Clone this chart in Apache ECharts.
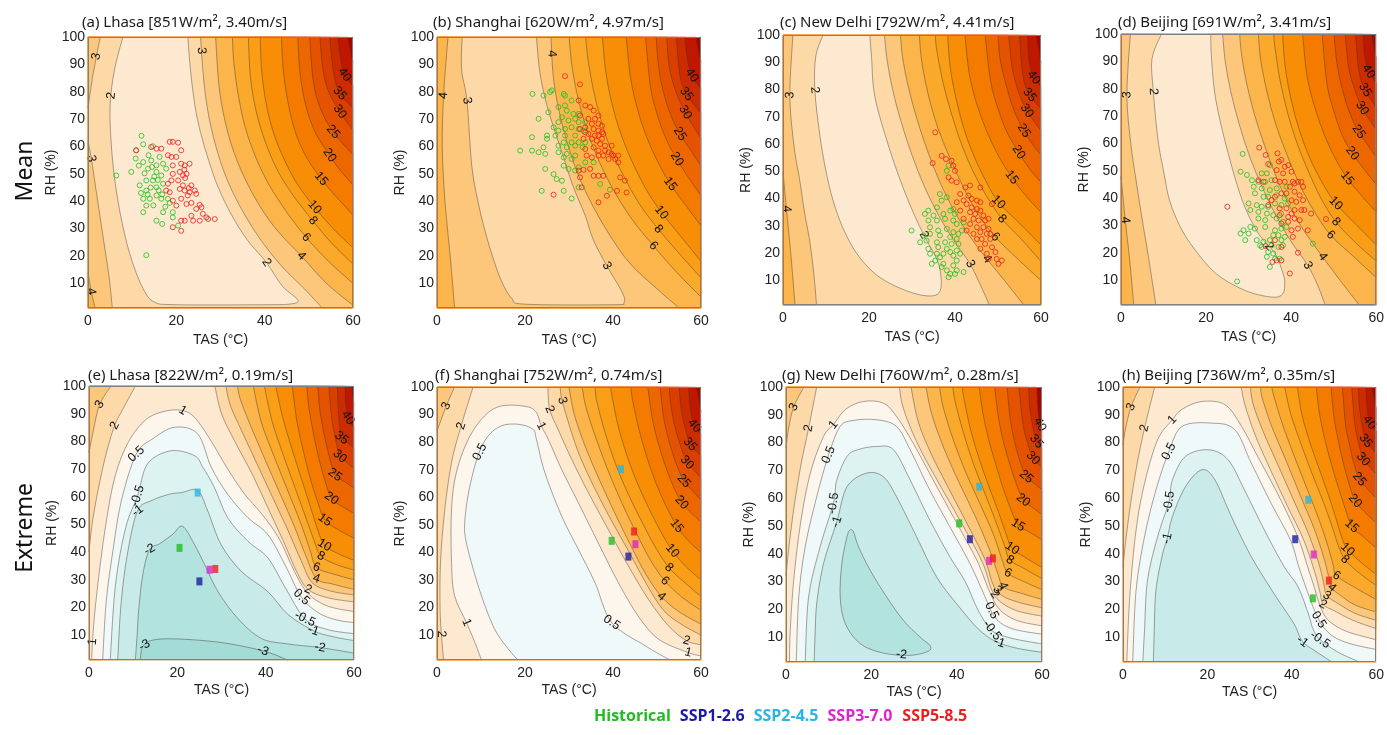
<!DOCTYPE html>
<html><head><meta charset="utf-8">
<script src="https://cdn.jsdelivr.net/npm/echarts@6/dist/echarts.min.js"></script>
<style>html,body{margin:0;padding:0;background:#fff}#c{width:1387px;height:735px}</style>
</head><body><div id="c"></div>
<script>
// ---------- contour levels and band colours ----------
const bandLevels = [-3,-2,-1,-0.5,0.5,1,2,3,4,6,8,10,15,20,25,30,35,40,45];
const bandColors = ['#a3dcd7','#b3e3df','#c8ebe9','#dcf3f2','#eff9f9','#fdf6ed','#fde9cf','#fcd9a7','#fcc67b','#fbb54b','#fba92b','#fa9e15','#f88e05','#f47b00','#ed6700','#e55300','#da3f00','#cd2b00','#bf1700'];
const topBandColor = '#a80303';

const scenarioNames = ['Historical','SSP1-2.6','SSP2-4.5','SSP3-7.0','SSP5-8.5'];
const scenarioColors = ['#22bb22','#1a1aa6','#2ab4e2','#dd24cc','#ee1e1e'];

const panelTitles = [
 '(a) Lhasa [851W/m\u00b2, 3.40m/s]','(b) Shanghai [620W/m\u00b2, 4.97m/s]','(c) New Delhi [792W/m\u00b2, 4.41m/s]','(d) Beijing [691W/m\u00b2, 3.41m/s]',
 '(e) Lhasa [822W/m\u00b2, 0.19m/s]','(f) Shanghai [752W/m\u00b2, 0.74m/s]','(g) New Delhi [760W/m\u00b2, 0.28m/s]','(h) Beijing [736W/m\u00b2, 0.35m/s]'];
const xTicks = [0,20,40,60];
const yTicks = [10,20,30,40,50,60,70,80,90,100];

// ---------- contour lines: [level, [[TAS,RH],...]] ----------
const contoursA = [
 [2,[[7.9,100],[6,88],[5,75],[5.3,60],[6.3,45],[8,30],[10,18],[12.5,8],[15,3.2],[20,2.2],[40,2.2],[46,2.5],[47.5,4],[44,9],[40.4,17.6],[36,26],[32.5,35],[29.5,45],[27.3,55],[25.5,65],[24.2,75],[23.2,88],[22.6,100]]],
 [3,[[2.8,100],[1.9,92.9],[0.9,84],[0,74]]],
 [3,[[0,62],[0.75,55.6],[2.2,40],[3.6,25],[4.8,12],[5.5,1]]],
 [3,[[53,1],[49,8],[44,16],[39.5,25],[35.5,35],[32,46],[29.5,57],[27.6,69],[26.5,80],[25.8,92],[25.5,100]]],
 [4,[[0,14],[0.75,7],[1.6,1]]],
 [4,[[60,2],[54,10],[48.3,20],[43,29],[39,38],[35.3,49],[32.6,60],[30.8,71],[29.6,83],[28.9,100]]],
 [6,[[60,10],[54.5,18],[49.4,26.8],[45,36],[41,46],[38,56],[35.6,67],[34,79],[33,91],[32.7,100]]],
 [8,[[60,17],[55,25],[50.9,32.9],[46.5,42],[43,51],[40.3,61],[38.2,72],[36.8,85],[36.3,100]]],
 [10,[[60,23],[55.5,30],[51.3,37.8],[47.5,46],[44.5,55],[42,65],[40.3,76],[39.3,88],[39,100]]],
 [15,[[60,35],[56,42],[52.8,48.2],[49.5,56],[47,65],[45.3,76],[44.2,88],[43.8,100]]],
 [20,[[60,46],[57,51.5],[54.7,56.8],[51.5,65],[49.3,75],[48,87],[47.5,100]]],
 [25,[[60,57],[55.5,65.3],[52.6,74],[51,84],[50.2,100]]],
 [30,[[60,66],[57,72.7],[54.5,80],[53.2,88],[52.5,100]]],
 [35,[[60,74],[57,79.4],[55.6,87],[54.7,100]]],
 [40,[[60,82],[58.1,86.2],[57.2,92],[56.6,100]]],
 [45,[[60,91],[58.7,100]]]
];
const labelsA = [['3',1.9,92.9],['2',4.2,78.8],['3',0.75,55.6],['4',0.75,7],['3',26,95],['2',40.4,17.6],['4',48.3,20],['6',49.4,26.8],['8',50.9,32.9],['10',51.3,37.8],['15',52.8,48.2],['20',54.7,56.8],['25',55.5,65.3],['30',57,72.7],['35',57,79.4],['40',58.1,86.2]];

const contoursB = [
 [3,[[5.7,100],[5.6,88],[6.8,76.8],[7.9,53],[9.3,40],[11,28.6],[13,18],[14.8,10.3],[17,4.5],[20,2.4],[40,2.2],[42.5,3],[42,7],[38.6,16.4],[35.5,26],[33.7,34.7],[30.8,46],[28.4,57.9],[26.3,68],[24.6,77.4],[23.3,88],[22.6,100]]],
 [4,[[2.5,100],[1.5,78.6],[1.2,60],[1.8,40],[3,20],[4,1]]],
 [4,[[55,1],[50,8],[44,17],[39.5,27],[35.5,38],[32,50],[29.5,62],[27.6,74],[26.4,86],[25.9,100]]],
 [6,[[60,5],[54.5,14],[49.2,23.7],[44.5,33],[40.5,43],[37,54],[34.3,65],[32.3,76],[30.8,88],[30,100]]],
 [8,[[60,12],[55,21],[50.3,29.8],[46,39],[42.5,49],[39.5,59],[37.2,70],[35.5,81],[34.3,92],[33.8,100]]],
 [10,[[60,18],[55.5,27],[51,35.9],[47.3,45],[44.2,55],[41.7,65],[39.7,76],[38.3,88],[37.6,100]]],
 [15,[[60,31],[56.3,39],[53,46.3],[50,55],[47.5,64],[45.5,74],[44,85],[43,100]]],
 [20,[[60,42],[57,49],[54.5,55.4],[52,63],[50,72],[48.5,82],[47.4,100]]],
 [25,[[60,53],[57.5,59],[55.2,64.6],[53,72],[51.3,81],[50.3,90],[49.8,100]]],
 [30,[[60,63],[58,68],[56.4,72.5],[54.3,80],[52.8,89],[52.2,100]]],
 [35,[[60,72],[56.7,79.2],[55.2,86],[54.4,100]]],
 [40,[[60,81],[57.9,86],[56.8,93],[56.4,100]]],
 [45,[[60,91],[58.8,100]]]
];
const labelsB = [['4',1.5,78.6],['3',6.8,76.8],['4',26.1,93.9],['3',38.6,16.4],['6',49.2,23.7],['8',50.3,29.8],['10',51,35.9],['15',53,46.3],['20',54.5,55.4],['25',55.2,64.6],['30',56.4,72.5],['35',56.7,79.2],['40',57.9,86]];

const contoursC = [
 [2,[[9.3,100],[7.6,92],[7.4,80],[8.5,64],[10,50],[11.7,39],[14,29],[17.1,20],[21,13],[25,8.8],[30,5.5],[34,4.3],[36.3,5.5],[36.8,10],[35.9,17.3],[32.6,27.1],[28.8,40.5],[24.9,57.6],[21.4,77.1],[20.6,91.7],[20.2,100]]],
 [3,[[2.3,100],[1.6,78],[2.5,60],[3.9,46.6],[5,35],[6.2,24.6],[7.2,12],[7.8,1]]],
 [3,[[48,1],[46,8],[43.5,16.1],[40,24],[36.5,33],[33,44],[30,56],[27.5,68],[25.5,80],[24.2,91],[23.6,100]]],
 [4,[[0,50],[0.8,36.2],[1.8,20],[2.8,1]]],
 [4,[[56,1],[51.5,10],[47.4,17.9],[43.5,26],[40,35],[36.5,46],[33.5,58],[31,70],[29,82],[27.8,92],[27.3,100]]],
 [6,[[60,10],[54.5,18],[49.4,25.9],[45.5,34],[42,44],[38.8,55],[36,66],[33.8,78],[32.3,90],[31.7,100]]],
 [8,[[60,17],[55.5,25],[50.9,32.6],[47.3,41],[44.2,50],[41.5,60],[39.2,71],[37.3,82],[35.8,94],[35.4,100]]],
 [10,[[60,23],[55,31],[50.1,38.7],[47,47],[44.3,56],[42,66],[40.2,77],[38.9,88],[38.3,100]]],
 [15,[[60,35],[56.5,41],[53.2,47.8],[50,56],[47.3,65],[45,75],[43.3,86],[42.3,100]]],
 [20,[[60,46],[57.3,51],[54.8,57],[52.2,64],[50,73],[48.3,83],[47,100]]],
 [25,[[60,56],[58,60],[56,64.9],[53.8,72],[52,81],[50.5,91],[50,100]]],
 [30,[[60,65],[58.3,68.5],[56.7,72.2],[54.8,79],[53.3,88],[52.5,100]]],
 [35,[[60,73],[57.1,78.5],[55.7,86],[55,100]]],
 [40,[[60,81],[58.3,84.4],[57.2,91],[56.9,100]]],
 [45,[[60,90],[58.9,100]]]
];
const labelsC = [['3',1.6,78],['2',7.4,79.8],['4',0.8,36.2],['2',31.9,25.9],['3',43.5,16.1],['4',47.4,17.9],['6',49.4,25.9],['8',50.9,32.6],['10',50.1,38.7],['15',53.2,47.8],['20',54.8,57],['25',56,64.9],['30',56.7,72.2],['35',57.1,77.7],['40',58.3,84.4]];

const contoursD = [
 [2,[[9.5,100],[7.3,91],[7.6,79],[8.7,61.3],[10,50],[11.4,39.3],[13.8,30],[16.9,22.2],[22.3,12.5],[29.2,6.3],[35.4,3.9],[38,5],[38.5,9],[38.1,12.5],[36.2,19.8],[32.3,27.1],[28.5,39.3],[25,57.6],[22.3,75.9],[21.3,90.6],[21.1,100]]],
 [3,[[2.2,100],[1.4,77.8],[2.3,60],[3.7,45],[5,32],[6.3,20],[7.5,8],[8.2,1]]],
 [3,[[48,1],[46.3,8],[43.9,15.5],[40.5,23],[37,32],[33.5,43],[30.3,55],[27.8,67],[25.8,79],[24.5,90],[23.9,100]]],
 [4,[[0,48],[1,32],[2,18],[3,1]]],
 [4,[[56,1],[51.5,10],[47.4,18.6],[43.5,27],[40,36],[36.7,47],[33.8,59],[31.3,71],[29.4,83],[28.3,93],[27.9,100]]],
 [6,[[60,11],[54.5,19],[49.3,26.5],[45.5,35],[42,45],[39,56],[36.4,67],[34.3,79],[32.8,91],[32.3,100]]],
 [8,[[60,17],[55,24],[50.5,31.4],[47,40],[44,50],[41.4,60],[39.2,71],[37.4,83],[36.2,95],[35.9,100]]],
 [10,[[60,23],[55.2,30.5],[50.5,38.1],[47.2,46],[44.3,55],[41.9,65],[40,76],[38.6,88],[38,100]]],
 [15,[[60,35],[56.5,41],[53.2,47.3],[50.2,55],[47.6,64],[45.4,74],[43.7,85],[42.7,100]]],
 [20,[[60,45],[57.2,50.5],[54.4,56.4],[52,63],[50,72],[48.4,82],[47.3,100]]],
 [25,[[60,55],[58,59.5],[55.9,64.3],[53.8,71],[52,80],[50.7,90],[50.1,100]]],
 [30,[[60,65],[58.4,68.8],[56.7,72.9],[54.9,80],[53.5,88],[52.7,100]]],
 [35,[[60,73],[57.4,79.6],[56,86],[55.1,100]]],
 [40,[[60,82],[58.2,86.3],[57.3,92],[56.9,100]]],
 [45,[[60,91],[58.9,100]]]
];
const labelsD = [['3',1.4,77.8],['2',7.6,79],['4',1,32],['2',34.5,22],['3',43.9,15.5],['4',47.4,18.6],['6',49.3,26.5],['8',50.5,31.4],['10',50.5,38.1],['15',53.2,47.3],['20',54.4,56.4],['25',55.9,64.3],['30',56.7,72.9],['35',57.4,79.6],['40',58.2,86.3]];

const contoursE = [
 [3,[[5,100],[2.4,93.3],[1,84],[0,76]]],
 [3,[[60,24.5],[54.5,26],[50.5,29],[48,37],[45,48],[41.5,60],[38,72],[34.5,84],[32,93],[31,100]]],
 [2,[[10.5,100],[7.8,92],[5.8,85.7],[3.8,75],[2,62],[0.7,50],[0,40]]],
 [2,[[60,22],[54,23.5],[49.6,26.5],[47,33],[44,44],[40.5,56],[37,68],[33,80],[30,90],[28.5,100]]],
 [1,[[60,18.5],[54,20.5],[49.6,25],[46.5,33],[43,45],[39,54],[35.2,61],[31.4,70],[27.7,80],[24,88.5],[21.2,91.1],[17.5,91],[13,88],[9,80],[6,68],[4,52],[2.5,35],[1.3,18],[0.8,7.6],[0.6,1]]],
 [0.5,[[60,14.5],[56,15.5],[52,18],[48.1,23.7],[44.5,35],[40.5,46.3],[36,52.4],[31.4,60.9],[27.7,70.6],[24.6,82.7],[19.4,85.1],[14.5,81],[10.7,75.4],[7.3,58.4],[5.4,40.3],[3.9,22.1],[3.1,1]]],
 [-0.5,[[60,10.5],[54,12],[48.9,15.8],[44.5,27],[40.5,37.9],[36,43.9],[31.4,52.4],[28.4,63.3],[25.8,70.6],[23.9,74.8],[18.6,76.6],[13.3,72],[11,60.3],[8.3,48.8],[6,28.2],[4.8,1]]],
 [-1,[[60,8],[55,9.5],[50.8,11.6],[45,17.5],[40.5,25.7],[34.5,33],[29.9,42.7],[26.9,54.8],[24.6,62.3],[21,61.5],[18.2,60.9],[14,58.5],[11,54.9],[8.8,40.3],[7.3,22.1],[6.5,1]]],
 [-2,[[60,3.5],[52.3,5.5],[45,6.8],[39,8.8],[33.7,16],[29.2,25.7],[26.2,35.4],[23.9,42.7],[21.2,49.3],[19,46.5],[16,43],[13.7,40.9],[12.2,32],[11.3,20],[10.9,10],[10.5,1]]],
 [-3,[[45,1],[39.4,4.3],[30,7.3],[20,8.6],[14.5,8.2],[12.2,6],[11.6,1]]],
 [4,[[60,26.5],[55,28.5],[51.5,30.4],[49,39],[46.3,50],[43,62],[39.7,74],[36.5,86],[34.3,95],[33.6,100]]],
 [6,[[60,30],[55.5,32],[51.5,34.5],[50,41],[47.8,51],[44.8,63],[41.8,75],[39,87],[37.2,100]]],
 [8,[[60,33.5],[56,35.5],[52.5,38.5],[51,44],[49.2,52],[46.7,63],[44,75],[41.5,87],[39.7,100]]],
 [10,[[60,37],[56.3,39.5],[53.3,42.5],[51.8,48],[50.2,56],[48.2,66],[46,77],[43.8,89],[42.3,100]]],
 [15,[[60,45],[56.5,48],[53.4,51.6],[51.8,58],[50.2,66],[48.6,76],[47.1,87],[46,100]]],
 [20,[[60,54],[57.3,56.5],[54.9,59.4],[53.4,66],[52,74],[50.8,83],[49.8,92],[49.3,100]]],
 [25,[[60,63],[57.8,65.5],[55.7,67.9],[54.5,74],[53.3,82],[52.3,91],[51.8,100]]],
 [30,[[60,70],[58.3,72.5],[56.8,74.6],[55.8,81],[54.9,89],[54.3,100]]],
 [35,[[60,77.5],[58.6,79.5],[57.2,81.2],[56.6,88],[56.2,100]]],
 [40,[[60,85],[58.6,88.5],[58.1,94],[58,100]]],
 [45,[[60,93],[59.5,100]]]
];
const labelsE = [['3',2.4,93.3],['2',5.8,85.7],['0.5',10.7,75.4],['-0.5',11,60.3],['-1',11,54.9],['-2',13.7,40.9],['1',21.2,91.1],['1',0.8,7.6],['-3',12.2,7.3],['-3',39.4,4.3],['-2',52.3,5.5],['-1',50.8,11.6],['-0.5',48.9,15.8],['0.5',48.1,23.7],['2',49.6,26.5],['4',51.5,30.4],['6',51.5,34.5],['8',52.5,38.5],['10',53.3,42.5],['15',53.4,51.6],['20',54.9,59.4],['25',55.7,67.9],['30',56.8,74.6],['35',57.2,81.2],['40',58.6,88.5]];

const contoursF = [
 [0.5,[[53,1],[51.8,2],[47.3,6.2],[39.7,14.6],[35.9,29.1],[32.1,41.2],[28.3,53.3],[24.5,69],[22.6,81],[21.8,84.7],[18.4,86.5],[14.6,85.9],[11.6,82.2],[9.3,75],[7.2,62],[6.3,50.8],[6.5,45],[7.8,36.4],[10.1,24.3],[13.1,12.2],[16.2,5],[18.4,1]]],
 [1,[[60,2.5],[57.1,3.7],[50.3,8.6],[45.7,17],[41.2,29.1],[36.6,43.6],[32.1,58.1],[28.3,70.2],[25.3,81],[23.7,85.9],[22.5,91],[20,93],[14.6,93.1],[10.8,89.5],[7.1,81],[4.4,69],[3.3,55.7],[3.3,36.4],[4,24.3],[6.7,14.6],[8.6,7.4],[10.1,1]]],
 [2,[[8.2,100],[5.5,85.9],[3.3,72.6],[1.7,54.5],[0.8,36.4],[0.7,20],[1,10.4],[1.5,1]]],
 [2,[[60,6.5],[56.7,8],[52.6,13.4],[48,23.1],[43.5,35.1],[38.9,48.4],[34.4,61.7],[30.6,73.8],[27.5,84.7],[25.6,91.9],[25.2,100]]],
 [3,[[4,100],[2.1,93.1],[0,84]]],
 [3,[[60,10],[55.5,14],[51.5,19],[47.8,28],[43.7,40],[39.5,52],[35.6,64],[32.2,76],[29.7,88],[28.3,96],[28,100]]],
 [4,[[60,14],[55,18.5],[51,24],[47.5,32],[44.2,42],[40.5,54],[37,66],[33.8,78],[31.2,90],[30,100]]],
 [6,[[60,19],[55.5,24],[51.8,29.7],[48.6,37],[45.3,47],[42,58],[38.8,70],[36,82],[33.8,93],[33,100]]],
 [8,[[60,24],[56,29.5],[52.7,34.5],[49.6,42],[46.6,51],[43.5,61],[40.6,72],[38.1,84],[36.3,95],[35.9,100]]],
 [10,[[60,30],[56.5,35],[53.5,40.6],[50.7,48],[48,56.5],[45.3,66],[43,76],[41,87],[39.4,100]]],
 [15,[[60,40],[57,44.5],[54.5,49.6],[52,57],[49.8,65],[47.8,74],[46,84],[44.6,94],[44,100]]],
 [20,[[60,51],[57.7,54.5],[55.6,58.1],[53.7,64],[52,71],[50.4,79],[49,88],[47.9,100]]],
 [25,[[60,59],[58,62.5],[56.1,65.9],[54.4,72],[52.8,80],[51.5,89],[50.7,100]]],
 [30,[[60,67],[58.3,70],[56.8,72.6],[55.3,79],[54,86],[53.1,94],[52.8,100]]],
 [35,[[60,75],[58.7,77],[57.5,79.2],[56.4,85],[55.5,92],[55,100]]],
 [40,[[60,83],[58.5,85.9],[57.6,92],[57.2,100]]],
 [45,[[60,91],[59,100]]]
];
const labelsF = [['3',2.1,93.1],['2',5.5,85.9],['0.5',10.8,75.6],['1',6.7,14.6],['2',1,10.4],['3',28.2,95],['2',25.6,91.9],['1',23.7,85.9],['0.5',39.7,14.6],['2',56.7,8],['1',57.1,3.7],['4',51,24],['6',51.8,29.7],['8',52.7,34.5],['10',53.5,40.6],['15',54.5,49.6],['20',55.6,58.1],['25',56.1,65.9],['30',56.8,72.6],['35',57.5,79.2],['40',58.5,85.9]];

const contoursG = [
 [3,[[4.2,100],[1.8,92.8],[0.6,85],[0,78]]],
 [3,[[60,20.5],[54.5,22.5],[50.5,25],[48.5,29],[46.6,38],[42.7,50],[38.3,63],[34,76],[31,87.5],[29.3,100]]],
 [2,[[7.2,100],[5.3,85.2],[3.5,72],[2,58],[0.8,44],[0,32]]],
 [2,[[60,17.5],[54,19.5],[50,23],[48.2,27],[46,37],[41.5,50],[36.7,63],[32,76],[29,86],[27.2,94],[26.6,100]]],
 [1,[[60,14],[54,16],[50,20],[47.8,26],[45.5,35],[43.9,40.1],[39.2,53.3],[34.5,66.5],[29.8,79.8],[25.9,89.4],[22.8,94.2],[18.2,94.8],[14,92],[11.1,86.4],[8.8,82.2],[5.7,69],[3.4,50.9],[1.8,30.4],[1,12.4],[0.8,1]]],
 [0.5,[[60,11],[53,13],[49,17],[46.5,25],[43.1,36.5],[38.4,49.7],[33.7,62.9],[29.1,77.4],[25.9,85.8],[21.3,88.2],[16,88],[12.7,85.8],[10,75.6],[7.2,60.5],[4.5,42.5],[3,24.4],[2.4,1]]],
 [-0.5,[[60,7.5],[53,9.5],[48.5,12],[46,17],[44.3,22],[42,30],[38.4,38.9],[33.7,52.1],[29.1,66.5],[25.2,77.4],[21.3,78.6],[17,77.5],[14.3,75],[11.9,66.5],[11.1,58.1],[8,42.5],[5.3,24.4],[4.5,1]]],
 [-1,[[60,4.5],[54,6],[49,8.5],[45,13],[40.5,21],[35.3,31.6],[30.6,46.1],[25.9,60.5],[22.8,67.7],[18.9,69],[14.3,64.1],[11.9,51.5],[8.8,36.5],[7.2,22],[6.8,10],[6.6,1]]],
 [-2,[[15,48.5],[14.3,46.1],[13.1,36.5],[12.7,24.4],[13.9,14.8],[17.4,7.6],[22.8,4.2],[29.1,3.4],[33.4,4.9],[33.7,7],[31.4,10],[27.5,16],[23.6,24.4],[19.7,34.1],[17,42.5],[15.8,47.9],[15,48.5]]],
 [4,[[60,23.5],[55,25.8],[51,28],[49.6,33],[47.8,41],[44.5,53],[40.6,65.5],[37,78],[34.2,90],[32.8,100]]],
 [6,[[60,27],[55.7,30],[52,33],[50.6,38],[48.6,47],[45.6,57.5],[42.2,69],[39.2,81],[36.8,93],[36,100]]],
 [8,[[60,31],[56,34.5],[52.5,37.7],[51.2,43],[49.3,51],[46.8,61],[44,72],[41.5,84],[39.6,95],[39.1,100]]],
 [10,[[60,35],[56.2,38.5],[53,41.9],[51.6,47],[49.8,55],[47.6,64],[45.3,74],[43.2,85],[41.7,96],[41.3,100]]],
 [15,[[60,45],[57,47.8],[54.4,50.3],[52.7,56],[51,63],[49.2,72],[47.5,81],[46.1,91],[45.3,100]]],
 [20,[[60,54],[57.8,56.6],[55.6,59.3],[54,65],[52.5,72],[51,80],[49.8,89],[48.9,100]]],
 [25,[[60,63],[58,65.5],[56.3,67.7],[54.9,73],[53.6,80],[52.6,88],[51.8,100]]],
 [30,[[60,71],[57.9,74.4],[56.6,80],[55.5,87],[54.6,100]]],
 [35,[[60,78],[58.7,80.4],[57.8,86],[57.1,93],[56.9,100]]],
 [40,[[60,85],[59.5,86.5],[59,93],[58.8,100]]]
];
const labelsG = [['3',1.8,92.8],['2',5.3,85.2],['1',11.1,86.4],['0.5',10,75.6],['-0.5',11.1,58.1],['-1',11.9,51.5],['-2',27.1,4],['0.5',47.5,19],['-0.5',47.8,11.8],['-1',50,8],['2',48.6,25],['3',49.6,27],['4',51,28.5],['6',52,33],['8',52.5,37.7],['10',53,41.9],['15',54.4,50.3],['20',55.6,59.3],['25',56.3,67.7],['30',57.9,74.4],['35',58.7,80.4],['40',59.5,86.5]];

const contoursH = [
 [3,[[4,100],[1.9,92.8],[0.6,85],[0,79]]],
 [3,[[60,16],[55,18.5],[51,22],[48.3,24.9],[47.6,29],[46.5,36],[44,47],[40.5,59],[36.7,72],[33.2,84],[30.8,94],[30.2,100]]],
 [2,[[7.5,100],[5.1,85.2],[3.3,72],[1.8,58],[0.6,44],[0,35]]],
 [2,[[60,13],[54.5,16],[50,19.5],[47.4,21.7],[46.7,26],[45.5,33],[42.8,45],[39,57],[35,70],[31.5,82],[29,93],[28,100]]],
 [1,[[60,9],[53,12],[49,15.5],[47.3,19],[46.3,23],[45.3,28],[43.8,35],[41.3,46.5],[36.6,61.7],[31.9,75],[28.1,85.8],[24.2,93.6],[18.7,94.8],[14,92],[11.7,88.2],[8.2,81],[5.1,65.3],[3.1,48.5],[1.6,24.4],[0.9,1]]],
 [0.5,[[60,5.5],[54,7.5],[50,10],[47.5,13.5],[46.4,16.2],[45,21],[43.3,28],[41.5,36],[39.7,44.9],[35.1,58.1],[30.4,72.6],[26.5,84.6],[21,87],[14,85.8],[10.9,76.8],[7.8,62.9],[5.1,46.1],[3.1,26.8],[2.3,1]]],
 [-0.5,[[56,1],[51,4.5],[46.7,9],[45,13],[44,18],[41.5,28],[38.2,35.3],[33.5,48.5],[28.8,62.9],[24.9,73.8],[20.3,77.4],[14.8,75],[11.7,66.5],[10.9,58.7],[8.2,46.1],[5.8,30.4],[5.1,12.4],[4.7,1]]],
 [-1,[[49.5,1],[45.5,5],[42.5,8.4],[40.5,14.8],[35.8,25.6],[30.4,38.9],[25.7,53.3],[21.8,66.5],[18.7,70.2],[14.8,64.1],[11.7,53.3],[10.5,45.5],[9.4,40],[7.8,26.8],[7.4,12.4],[7.2,1]]],
 [4,[[60,19],[55,21.5],[51.5,25],[49.5,27.7],[48.7,32],[47.5,39],[45.3,49],[42,61],[38.5,74],[35.2,86],[33,96],[32.6,100]]],
 [6,[[60,23.5],[55.3,27.5],[50.6,32.1],[49.8,36],[48.5,43],[46.5,52],[43.7,63],[40.6,75],[37.7,87],[35.7,97],[35.3,100]]],
 [8,[[60,28.5],[56,33],[52.6,37.9],[51,43],[49.5,50],[47.5,58.5],[45,68],[42.3,79],[39.8,90],[38.3,100]]],
 [10,[[60,32.5],[56.3,37],[53.2,41.5],[51.8,46],[50.4,53],[48.7,61],[46.6,70],[44.3,80],[42.4,90],[41.3,100]]],
 [15,[[60,42],[57,46],[54.2,49.9],[52.7,56],[51.2,63],[49.6,71],[48,80],[46.6,90],[45.8,100]]],
 [20,[[60,51],[57.3,55],[55,59],[53.6,65],[52.3,72],[51.1,80],[50,89],[49.3,100]]],
 [25,[[60,60],[57.8,63.5],[56,66.8],[54.8,72],[53.7,79],[52.7,87],[52,100]]],
 [30,[[60,68.5],[58.3,71.5],[56.9,74],[55.8,80],[54.9,87],[54.2,100]]],
 [35,[[60,76],[58.6,78.5],[57.5,80.6],[56.7,86],[56,93],[55.8,100]]],
 [40,[[60,84],[58.4,87.2],[57.8,93],[57.6,100]]],
 [45,[[60,92],[59,100]]]
];
const labelsH = [['3',1.9,92.8],['2',5.1,85.2],['1',11.7,88.2],['0.5',10.9,76.8],['-0.5',10.9,58.7],['-1',10.5,45.5],['-1',42.5,8.4],['-0.5',46.7,9],['0.5',46.4,16.2],['2',47.4,21.7],['3',48.3,24.9],['4',49.5,27.7],['6',50.6,32.1],['8',52.6,37.9],['10',53.2,41.5],['15',54.2,49.9],['20',55,59],['25',56,66.8],['30',56.9,74],['35',57.5,80.6],['40',58.4,87.2]];

// ---------- scatter points (mean panels): [TAS, RH] ----------
const histA = [[12.1,63.9],[12.5,60.8],[10.9,58.6],[14.7,60.1],[13.7,56.8],[10.8,55.6],[12.5,54.3],[14.3,54.9],[16.2,56.2],[15.5,53.1],[13.6,51.9],[15.5,50.7],[17,53.7],[17.7,51.9],[16.6,49.4],[14.7,47.6],[13.2,47.6],[11.7,45.8],[13.2,43.9],[15.5,45.1],[17,46.4],[15.5,42.1],[14,40.9],[12.5,40.9],[16.6,40.9],[18.1,40.9],[19.2,36],[17,36],[15.5,32.9],[16.8,31.7],[20.4,31.1],[12.5,36],[13.2,38.4],[6.4,49.4],[9.8,50.7],[13.2,20.3],[18.5,39.4],[19.2,34.1],[15,49],[14.5,52.5],[16,44],[16.8,42.5],[12.8,50.2],[14.2,45],[15.8,47.8],[11.5,53],[13.5,42.5],[17.5,38],[14.8,38.5],[12,43]];
const sspA = [[14.3,59.8],[15.5,59.2],[16.6,59.2],[18.5,61.7],[19.2,61.7],[20.4,61.4],[21.1,58.6],[18.9,56.2],[20,56.2],[18.1,56.8],[19.2,53.1],[21.1,53.7],[21.9,53.1],[22.3,50],[23,53.7],[20.8,50.7],[19.2,50],[18.9,47.6],[20.4,47.6],[21.5,45.8],[21.9,43.9],[23.4,45.8],[24.2,43.9],[23,43.3],[24.5,42.7],[22.6,42.1],[21.1,40.9],[22.3,39],[20,38.4],[23.4,39.4],[25.3,38.7],[25.7,37.8],[24.5,37.2],[23.4,34.7],[26,35.4],[26.8,34.1],[21.1,32.9],[21.9,32.9],[19.2,30.5],[21.1,29.2],[23.8,32.9],[25.3,32.9],[27.2,33.5],[28.7,33.5],[18.1,46.4],[17.7,43.9],[18.5,43.3],[19.2,40.2],[10.9,58.6],[21.5,49.5],[22,48.5],[20.8,44.5],[22.8,44.8],[21.8,51.5]];
const histB = [[21.7,79.2],[24.2,78.6],[25.7,79.9],[26.1,80.5],[28.8,79.2],[29.1,78.6],[30.6,76.8],[25.3,72.5],[27.6,74.4],[29.1,75],[29.5,73.1],[31,71.9],[32.2,71.9],[28.4,70.7],[27.6,68.9],[29.9,69.5],[31.4,70.1],[32.2,68.9],[33.7,68.9],[23.1,70.1],[26.5,67],[29.1,66.4],[30.6,67],[32.2,66.4],[33.3,65.8],[27.6,65.8],[25,64],[26.9,64],[29.1,64],[31.4,64],[25,62.8],[28.8,61.5],[30.6,61.5],[32.2,61.5],[33.7,61.5],[21.6,63.4],[24.2,59.7],[27.6,60.3],[29.5,59.7],[31.4,60.3],[33.1,59.7],[27.6,57.9],[29.5,57.3],[31.4,56.7],[28.8,56],[30.6,55.4],[24.6,57.3],[21.6,58.5],[23.1,57.9],[28.8,53],[29.9,51.8],[31.4,51.2],[32.2,52.4],[33.7,54.2],[24.6,51.8],[26.5,49.9],[27.2,48.1],[28.4,47.5],[32.2,45.1],[23.8,43.8],[28.8,43.8],[30.6,41],[37.1,46.3],[39.3,44.2],[35.6,54.2],[18.9,58.5]];
const sspB = [[29.1,85.7],[32.5,82.7],[32.2,76.8],[33.7,75],[34.8,74.4],[35.6,73.1],[36.7,71.3],[32.5,71.3],[34.4,70.1],[35.9,70.1],[35.2,68.3],[36.7,68.3],[37.5,67.6],[33.7,67],[35.6,66.4],[36.7,65.8],[37.5,65.2],[34.4,64.6],[35.9,64],[36.7,64],[37.8,64.6],[35.2,62.8],[36.3,62.1],[37.5,62.8],[33.3,62.8],[37.1,60.9],[38.2,60.3],[39.7,60.3],[33.7,59.1],[35.6,59.7],[36.7,58.5],[38.2,58.5],[39,57.9],[39.7,57.3],[40.1,56.7],[41.2,56.7],[37.8,56.7],[39,55.4],[40.5,55.4],[41.2,54.2],[36.7,56.7],[35.2,56],[34,56.7],[32.2,51.2],[33.3,51.5],[35.6,49.3],[36.7,49.3],[37.8,49.3],[34.8,51.8],[32.5,48.7],[41.6,48.7],[42.7,47.5],[43.1,43.2],[38.6,42],[36.7,39.6],[40.9,43.8],[32.9,45.1],[26.5,42.4],[32.5,66.4],[33.7,65.2]];
const histC = [[38.5,52.1],[38.1,50.2],[36.5,41.7],[38.1,40.5],[36.9,39.3],[35.8,36.8],[33.8,35.6],[33,34.4],[35,33.8],[37.3,34.4],[38.9,35.6],[39.6,36.2],[40,34.4],[33.8,32],[35.8,32],[37.7,32.6],[39.6,32],[40.4,30.7],[29.9,28.3],[34.2,29.5],[36.1,28.3],[38.1,28.9],[39.6,27.7],[40.8,27.1],[34.2,27.1],[36.5,26.5],[38.9,25.9],[40.4,25.2],[33.4,24.6],[35.8,24],[37.7,24],[39.2,23.4],[40.8,23.4],[33.8,21.6],[36.1,22.2],[38.1,21.6],[40.4,21],[34.2,19.8],[36.5,18.5],[39.6,19.1],[40.4,17.3],[35.4,17.3],[37.3,16.1],[39.6,15.5],[38.1,13.7],[40.4,13.7],[42,13.1],[38.9,12.4],[38.5,11.2],[40,12.4],[35.8,19.8],[37.3,19.8],[38.9,20.4],[41.2,19.8],[41.6,28.3],[42,31.3],[32.6,26.5],[31.9,24],[34.6,16.1],[36.9,14.9]];
const sspC = [[35.4,64.3],[34.8,53],[36.9,55.7],[37.9,54.5],[39.2,53.9],[39.6,52.1],[40,50.2],[38.5,47.8],[39.2,46.6],[40.4,46],[42.4,44.1],[43.5,44.8],[41.2,41.7],[42,39.3],[40.4,38.7],[42.7,38],[43.9,36.8],[45.1,36.2],[43.5,35],[44.7,34.4],[45.9,35.6],[46.6,33.8],[44.3,32.6],[45.5,32],[47,32],[47.8,32.6],[48.6,38],[43.5,30.7],[45.1,29.5],[46.6,29.5],[47.8,28.9],[45.9,27.7],[47.4,27.1],[44.3,27.1],[46.2,25.2],[48.2,25.2],[47,23.4],[48.6,22.2],[45.9,21.6],[49.4,20.4],[47.4,19.8],[49.7,17.9],[47.8,17.9],[50.9,17.3],[50.1,16.1],[42.7,28.3],[42,32.6],[45.1,39.3],[45.9,44.1],[43.1,41.1],[43.9,39.9],[41.2,35.6],[45.9,38.7],[48.2,27.1],[45.1,25.2]];
const histD = [[28.6,56.2],[28.1,49.7],[29.6,48.5],[33.1,49.1],[34.3,49.1],[35,52.1],[30.8,46.6],[32.3,46],[33.9,46],[35.4,46.6],[31.2,44.2],[33.1,43.6],[35,43],[36.6,43.6],[38.9,44.2],[31.5,41.8],[33.5,40.5],[34.6,40.5],[36.6,41.1],[38.5,39.9],[30,38.1],[31.9,37.5],[33.1,36.9],[34.6,36.9],[36.2,38.1],[37.7,37.5],[39.3,38.1],[30.4,35.7],[32.3,35],[34.3,34.4],[35.8,33.8],[37.7,34.4],[32.3,32.6],[33.9,32],[36.6,32.6],[38.1,31.4],[31.5,28.9],[33.9,29.5],[36.2,28.3],[37.7,28.9],[38.9,29.5],[30,27.1],[28.1,27.1],[29.2,24.7],[31.9,24.7],[33.5,24.1],[35.8,26.5],[37,26.5],[37.7,24.7],[38.5,25.9],[33.1,22.2],[35.4,22.8],[37,22.2],[38.1,22.8],[34.6,20.4],[35.8,19.8],[34.3,18.6],[36.2,17.9],[37.3,17.9],[35,14.9],[27.3,9.6],[45.1,23.4],[32.7,22.8],[35,24.7],[28.8,28.3],[30.4,29.5]];
const sspD = [[32.5,58.5],[34,55.8],[34.6,52.5],[36.8,56.4],[37.1,53.4],[37.7,54],[38.5,51.5],[39.3,52.1],[36.6,50.3],[38.1,49.1],[40.1,49.7],[40.4,46],[40.8,45.4],[41.6,46],[42.4,46],[42.8,44.2],[32.3,46.6],[33.5,46],[36.2,46.6],[37.3,46],[38.5,46],[39.7,44.2],[40.8,42.4],[42,41.1],[42.8,39.3],[41.2,38.7],[40.1,39.3],[38.9,41.8],[37.7,41.8],[36.2,40.5],[35.4,39.3],[34.6,37.5],[37.3,36.3],[38.9,36.3],[40.1,34.4],[40.8,35.7],[42.4,35.7],[37.3,33.8],[39.3,33.2],[40.8,32.6],[42,32],[39.3,31.4],[37.7,30.8],[40.1,28.3],[41.6,28.9],[43.9,28.3],[43.1,35.7],[44.7,34.4],[48.2,32.4],[34,22.5],[36.2,24.7],[37.7,22.2],[36.6,17.3],[37.7,17.3],[41.6,20.1],[35.6,16.7],[25,36.9],[40.4,25.9],[39.7,12.5]];

// ---------- scenario means (extreme panels), order of scenarioNames ----------
const pointsE = [[20.5,41.5],[25,29.4],[24.6,61.5],[27.3,33.6],[28.6,33.9]];
const pointsF = [[39.7,44.2],[43.5,38.5],[41.8,70.2],[45.1,43],[44.8,47.6]];
const pointsG = [[40.6,50.9],[43.1,45.2],[45.3,64.1],[47.6,37.4],[48.5,38.3]];
const pointsH = [[45,23.9],[40.8,45.2],[43.9,59.4],[45.2,39.7],[48.8,30.3]];

// ---------- drawing helpers ----------
const YMIN = 1, YMAX = 100, XMIN = 0, XMAX = 60;
function colorBelow(L){ const i = bandLevels.indexOf(L); return bandColors[i]; }
function isClosed(p){ const a=p[0], b=p[p.length-1]; return a[0]===b[0] && a[1]===b[1]; }
function perim(p){
  const x=p[0], y=p[1], e=1e-6;
  if (y <= YMIN+e) return (x-XMIN)/(XMAX-XMIN);
  if (x >= XMAX-e) return 1+(y-YMIN)/(YMAX-YMIN);
  if (y >= YMAX-e) return 2+(XMAX-x)/(XMAX-XMIN);
  return 3+(YMAX-y)/(YMAX-YMIN);
}
const CORNERS = [[XMIN,YMIN],[XMAX,YMIN],[XMAX,YMAX],[XMIN,YMAX]];
const f2 = v => v.toFixed(2);
function bez(px, closed){
  let s=''; const n=px.length;
  for (let i=0;i<n-1;i++){
    const p1=px[i], p2=px[i+1];
    const p0 = i>0 ? px[i-1] : (closed ? px[n-2] : px[i]);
    const p3 = i+2<n ? px[i+2] : (closed ? px[1] : px[i+1]);
    const c1=[p1[0]+(p2[0]-p0[0])/6, p1[1]+(p2[1]-p0[1])/6];
    const c2=[p2[0]-(p3[0]-p1[0])/6, p2[1]-(p3[1]-p1[1])/6];
    s += 'C'+f2(c1[0])+' '+f2(c1[1])+' '+f2(c2[0])+' '+f2(c2[1])+' '+f2(p2[0])+' '+f2(p2[1]);
  }
  return s;
}
function regionPath(pieces, P){
  let d='';
  pieces.filter(isClosed).forEach(c=>{ const px=c.map(P); d+='M'+f2(px[0][0])+' '+f2(px[0][1])+bez(px,true)+'Z'; });
  const open = pieces.filter(p=>!isClosed(p));
  const used = open.map(()=>false);
  for (let i=0;i<open.length;i++){
    if (used[i]) continue;
    let cur=i, first=true;
    while(!used[cur]){
      used[cur]=true;
      const px=open[cur].map(P);
      d += (first?'M':'L')+f2(px[0][0])+' '+f2(px[0][1])+bez(px,false);
      first=false;
      const te=perim(open[cur][open[cur].length-1]);
      let best=cur, bd=Infinity;
      open.forEach((q,j)=>{ const ts=perim(q[0]); const dd=(((ts-te)%4)+4)%4; if(dd<bd){bd=dd;best=j;} });
      for (let c=Math.floor(te)+1; c<te+bd; c++){ const cp=P(CORNERS[c%4]); d+='L'+f2(cp[0])+' '+f2(cp[1]); }
      cur=best;
    }
    d+='Z';
  }
  return d;
}
function renderContours(contours, labels){
  return function(params, api){
    const P = p => api.coord(p);
    const ch = [];
    const bl = P([XMIN,YMIN]), tr = P([XMAX,YMAX]);
    ch.push({type:'rect', shape:{x:bl[0], y:tr[1], width:tr[0]-bl[0], height:bl[1]-tr[1]}, style:{fill:topBandColor}});
    const lv = Array.from(new Set(contours.map(c=>c[0]))).sort((a,b)=>b-a);
    lv.forEach(L=>{
      const pieces = contours.filter(c=>c[0]===L).map(c=>c[1]);
      ch.push({type:'path', shape:{pathData:regionPath(pieces,P)}, style:{fill:colorBelow(L), stroke:colorBelow(L), lineWidth:0.3}});
    });
    contours.forEach(c=>{
      const px=c[1].map(P); const cl=isClosed(c[1]);
      ch.push({type:'path', shape:{pathData:'M'+f2(px[0][0])+' '+f2(px[0][1])+bez(px,cl)}, style:{fill:'none', stroke:'rgba(60,48,40,0.62)', lineWidth:0.7}});
    });
    labels.forEach(lb=>{
      const L=parseFloat(lb[0]); const q=P([lb[1],lb[2]]);
      let best=null, bd=Infinity;
      contours.filter(c=>c[0]===L).forEach(c=>{
        const px=c[1].map(P);
        for (let i=0;i<px.length-1;i++){
          const a=px[i], b=px[i+1], vx=b[0]-a[0], vy=b[1]-a[1];
          const len2=vx*vx+vy*vy||1;
          let t=((q[0]-a[0])*vx+(q[1]-a[1])*vy)/len2; t=Math.max(0,Math.min(1,t));
          const x=a[0]+t*vx, y=a[1]+t*vy, dd=(x-q[0])**2+(y-q[1])**2;
          if (dd<bd){bd=dd; best={x,y,ang:Math.atan2(vy,vx)};}
        }
      });
      if(!best) return;
      let r=-best.ang; while(r>Math.PI/2) r-=Math.PI; while(r<-Math.PI/2) r+=Math.PI;
      ch.push({type:'text', x:best.x, y:best.y, rotation:r, style:{text:lb[0], fill:'#111', font:'12.5px "Liberation Sans", Arial, sans-serif', align:'center', verticalAlign:'middle'}});
    });
    const x0=Math.round(bl[0])+0.5, y0=Math.round(tr[1])+0.5, x1=Math.round(tr[0])-0.5, y1=Math.round(bl[1])-0.5;
    ch.push({type:'path', shape:{pathData:'M'+x0+' '+y0+'L'+x1+' '+y0+'L'+x1+' '+y1+'L'+x0+' '+y1+'Z'}, style:{fill:'none', stroke:'#808080', lineWidth:1}});
    return {type:'group', children:ch};
  };
}

// ---------- layout ----------
const grids = [
 {left:88, top:37, width:265, height:271},
 {left:437, top:37, width:264, height:271},
 {left:783, top:35, width:258, height:270},
 {left:1121, top:34, width:258, height:271},
 {left:89, top:386, width:265, height:274},
 {left:437, top:387, width:264, height:273},
 {left:786, top:387, width:256, height:275},
 {left:1123, top:387, width:257, height:275}
];
const titleLeft = [82,433,780,1118,88,435,782,1122];
const allContours = [contoursA,contoursB,contoursC,contoursD,contoursE,contoursF,contoursG,contoursH];
const allLabels = [labelsA,labelsB,labelsC,labelsD,labelsE,labelsF,labelsG,labelsH];
const meanHist = [histA,histB,histC,histD];
const meanSsp = [sspA,sspB,sspC,sspD];
const extremePoints = [pointsE,pointsF,pointsG,pointsH];

const axisFont = '"Liberation Sans", Arial, sans-serif';
const xAxes = [], yAxes = [], series = [], titles = [];
grids.forEach((g,i)=>{
  const bottomRow = i>=4;
  xAxes.push({type:'value', gridIndex:i, min:XMIN, max:XMAX, interval:20, name:'TAS (\u00b0C)', nameLocation:'middle', nameGap: bottomRow?23:25,
    nameTextStyle:{fontSize:14, color:'#222', fontFamily:axisFont},
    axisLine:{show:false}, axisTick:{show:false}, splitLine:{show:false},
    axisLabel:{fontSize:14, color:'#222', margin:6, fontFamily:axisFont, customValues:xTicks}});
  yAxes.push({type:'value', gridIndex:i, min:YMIN, max:YMAX, name:'RH (%)', nameLocation:'middle', nameGap: bottomRow?25:28,
    nameTextStyle:{fontSize:14, color:'#222', fontFamily:axisFont},
    axisLine:{show:false}, axisTick:{show:false}, splitLine:{show:false},
    axisLabel:{fontSize:14, color:'#222', margin:3, fontFamily:axisFont, customValues:yTicks}});
  titles.push({text:panelTitles[i], left:titleLeft[i], top: bottomRow?368:15, padding:0,
    textStyle:{fontSize:15, fontWeight:'normal', color:'#1a1a1a', fontFamily:'"Noto Sans", "Open Sans", sans-serif'}});
  series.push({type:'custom', xAxisIndex:i, yAxisIndex:i, coordinateSystem:'cartesian2d', data:[[30,50]], silent:true, z:1, clip:false,
    renderItem: renderContours(allContours[i], allLabels[i])});
});
for (let i=0;i<4;i++){
  series.push({type:'scatter', name:'Historical', xAxisIndex:i, yAxisIndex:i, data:meanHist[i], symbol:'circle', symbolSize:5, z:3,
    itemStyle:{color:'rgba(0,0,0,0)', borderColor:'#1fbf1f', borderWidth:1}});
  series.push({type:'scatter', name:'SSP5-8.5', xAxisIndex:i, yAxisIndex:i, data:meanSsp[i], symbol:'circle', symbolSize:5, z:3,
    itemStyle:{color:'rgba(0,0,0,0)', borderColor:'#ee1e1e', borderWidth:1}});
}
for (let k=0;k<4;k++){
  const gi = k+4;
  scenarioNames.forEach((nm,s)=>{
    series.push({type:'scatter', name:nm, xAxisIndex:gi, yAxisIndex:gi, data:[extremePoints[k][s]], symbol:'rect', symbolSize:[6,8], z:4,
      itemStyle:{color:scenarioColors[s]}});
  });
}

const option = {
  animation:false,
  backgroundColor:'#fff',
  title: titles,
  grid: grids,
  xAxis: xAxes,
  yAxis: yAxes,
  series: series,
  legend: {top:703, left:583, itemWidth:0, itemHeight:0, itemGap:4, selectedMode:false, icon:'rect',
    textStyle:{fontSize:16, fontWeight:'bold', fontFamily:'"Open Sans", "Noto Sans", sans-serif'},
    data: scenarioNames.map((n,i)=>({name:n, textStyle:{color:scenarioColors[i]}}))},
  graphic: [
    {type:'text', x:25, y:171, rotation:Math.PI/2, style:{text:'Mean', font:'23px "Noto Sans", sans-serif', fill:'#111', align:'center', verticalAlign:'middle'}},
    {type:'text', x:25, y:528, rotation:Math.PI/2, style:{text:'Extreme', font:'23px "Noto Sans", sans-serif', fill:'#111', align:'center', verticalAlign:'middle'}}
  ]
};
const chart = echarts.init(document.getElementById('c'), null, {renderer:'canvas'});
chart.setOption(option);
</script>
</body></html>
